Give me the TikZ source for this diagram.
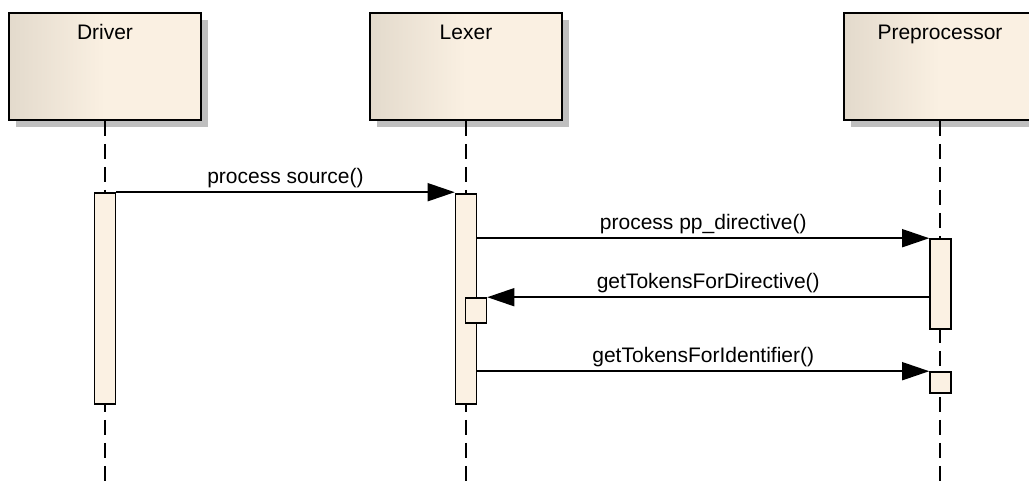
\documentclass[tikz,border=0pt]{standalone}
\usepackage{fontspec}
\setmainfont{Liberation Sans}
\usetikzlibrary{arrows.meta,shadows}
\definecolor{headleft}{HTML}{E3DACC}
\definecolor{headright}{HTML}{FAF0E2}
\definecolor{barfill}{HTML}{FBF1E3}
\definecolor{shadowgray}{HTML}{BFBFBF}

\begin{document}
\begin{tikzpicture}
[every node/.style={inner sep=0pt},
 head/.style={rectangle, minimum width=192pt, minimum height=107pt, line width=1.6pt, draw=black, left color=headleft, right color=headright, middle color=headright, drop shadow={shadow xshift=7pt, shadow yshift=-7pt, fill=shadowgray, opacity=1}},
 headname/.style={anchor=base, font=\fontsize{21}{25}\selectfont},
 bar/.style={rectangle, minimum width=21pt, line width=1.6pt, draw=black, fill=barfill},
 lifeline/.style={line width=1.6pt, dash pattern=on 15pt off 8pt},
 msg/.style={line width=1.6pt, -{Triangle[length=27pt, width=18pt]}},
 msglabel/.style={anchor=base, yshift=9pt, font=\fontsize{21}{25}\selectfont}]
\useasboundingbox (0pt, 0pt) rectangle (1029pt, -482pt);
\clip (0pt, 0pt) rectangle (1029pt, -482pt);
\coordinate (bottom) at (0pt, -482pt);
\node (driver) [head] at (105pt, -66.5pt) {};
\node (lexer) [head] at (466pt, -66.5pt) {};
\node (pp) [head] at (940pt, -66.5pt) {};
\node (drivername) [headname] at (105pt, -39pt) {Driver};
\node (lexername) [headname] at (466pt, -39pt) {Lexer};
\node (ppname) [headname] at (940pt, -39pt) {Preprocessor};
\draw [lifeline] (driver.south) -- (driver.south |- bottom);
\draw [lifeline] (lexer.south) -- (lexer.south |- bottom);
\draw [lifeline] (pp.south) -- (pp.south |- bottom);
\node (driverbar) [bar, minimum height=211pt] at (105pt, -298.5pt) {};
\node (lexerbar) [bar, minimum height=210pt] at (466pt, -299pt) {};
\node (ppbar) [bar, minimum height=90pt] at (940.5pt, -284pt) {};
\node (lexersub) [bar, minimum height=25pt] at (476pt, -310.5pt) {};
\node (ppsub) [bar, minimum height=21pt] at (940.5pt, -382.5pt) {};
\draw [msg] (driverbar.north east) -- (driverbar.north east -| lexerbar.west) node [msglabel, midway] {process source()};
\draw [msg] (lexerbar.east |- ppbar.north) -- (ppbar.north west) node [msglabel, midway] {process pp\_directive()};
\draw [msg] (ppbar.west |- lexersub.north) -- (lexersub.north east) node [msglabel, midway] {getTokensForDirective()};
\draw [msg] (lexerbar.east |- ppsub.north) -- (ppsub.north west) node [msglabel, midway] {getTokensForIdentifier()};
\end{tikzpicture}
\end{document}
